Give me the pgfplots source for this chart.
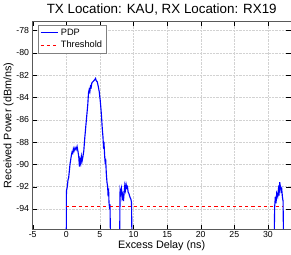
\documentclass[border=0pt]{standalone}
\usepackage{fontspec}
\setmainfont{Liberation Sans}
\usepackage{pgfplots}
\pgfplotsset{compat=1.18}
\begin{document}
\begin{tikzpicture}
\begin{axis}[
  scale only axis,
  width=250bp, height=201bp,
  xmin=-5, xmax=33.4, ymin=-95.8, ymax=-77.2,
  xtick={-5,0,5,10,15,20,25,30},
  ytick={-94,-92,-90,-88,-86,-84,-82,-80,-78},
  grid=major,
  major grid style={gray!35, densely dotted},
  tick align=inside,
  tick style={black},
  axis line style={gray!70!black},
  /pgf/number format/assume math mode=true,
  ticklabel style={font=\fontsize{8.5}{9}\selectfont},
  xticklabel style={yshift=1pt},
  title={TX Location: KAU, RX Location: RX19},
  title style={font=\fontsize{13}{14}\selectfont, yshift=-3pt},
  xlabel={Excess Delay (ns)},
  ylabel={Received Power (dBm/ns)},
  label style={font=\fontsize{10.5}{11}\selectfont},
  xlabel style={yshift=4pt},
  ylabel style={yshift=-4pt},
  legend style={at={(0.02,0.985)}, anchor=north west, font=\fontsize{9}{10}\selectfont, draw=gray, inner sep=2pt},
  legend cell align=left,
]
\addplot[blue, line width=1.1pt] coordinates {
(0,-95.8) (0.02,-92.4) (0.15,-92.0) (0.25,-91.4) (0.35,-91.2) (0.45,-90.6) (0.55,-90.0) (0.65,-89.6) (0.75,-89.2) (0.85,-88.9) (0.95,-89.0) (1.05,-88.6) (1.15,-88.8) (1.3,-88.5) (1.45,-88.7) (1.6,-88.4) (1.75,-88.9) (1.85,-89.3) (1.95,-90.2) (2.05,-89.6) (2.15,-89.9) (2.25,-89.3) (2.35,-89.7) (2.45,-89.4) (2.6,-88.8) (2.75,-87.6) (2.9,-86.6) (3.05,-85.6) (3.2,-84.6) (3.3,-83.6) (3.4,-83.3) (3.5,-83.5) (3.6,-83.0) (3.7,-83.1) (3.8,-82.7) (3.95,-82.6) (4.1,-82.5) (4.25,-82.4) (4.35,-82.3) (4.45,-82.5) (4.6,-82.6) (4.75,-83.0) (4.9,-83.5) (5.05,-84.3) (5.15,-85.0) (5.25,-85.8) (5.35,-86.8) (5.45,-87.5) (5.55,-88.6) (5.6,-88.0) (5.7,-89.2) (5.8,-90.0) (5.85,-89.5) (5.95,-90.8) (6.05,-91.6) (6.15,-92.0) (6.2,-92.6) (6.3,-92.4) (6.35,-93.4) (6.45,-94.0) (6.5,-93.6) (6.55,-95.8)
};
\addlegendentry{PDP}
\addplot[red, dashed, line width=1pt] coordinates {(0,-93.75) (32.2,-93.75)};
\addlegendentry{Threshold}
\addplot[blue, line width=1.1pt, forget plot] coordinates {
(7.95,-95.8) (8.0,-92.3) (8.1,-92.6) (8.2,-92.2) (8.3,-93.0) (8.4,-92.7) (8.5,-93.3) (8.6,-92.6) (8.7,-91.9) (8.8,-92.3) (8.9,-91.8) (9.0,-92.1) (9.1,-92.0) (9.2,-92.5) (9.3,-92.6) (9.4,-92.8) (9.5,-93.0) (9.6,-93.1) (9.7,-93.4) (9.75,-95.8)
};
\addplot[blue, line width=1.1pt, forget plot] coordinates {
(30.95,-95.8) (31.0,-93.8) (31.1,-92.9) (31.2,-93.5) (31.3,-92.6) (31.45,-92.9) (31.55,-92.3) (31.65,-92.8) (31.75,-91.6) (31.85,-92.0) (31.95,-92.4) (32.05,-92.2) (32.15,-92.9) (32.25,-93.3) (32.3,-95.8)
};
\end{axis}
\end{tikzpicture}
\end{document}
